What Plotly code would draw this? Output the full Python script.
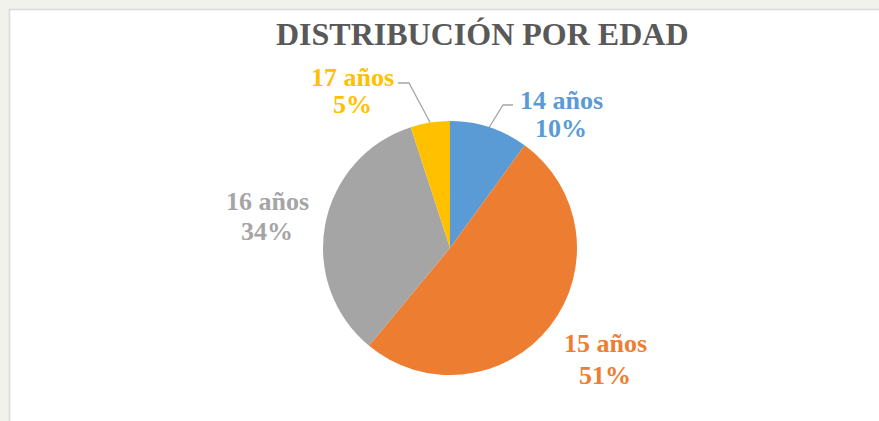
import math
import plotly.graph_objects as go

# ---- data ----
categories = ["14 años", "15 años", "16 años", "17 años"]
values = [10, 51, 34, 5]
colors = ["#5B9BD5", "#ED7D31", "#A5A5A5", "#FFC000"]
title_text = "DISTRIBUCIÓN POR EDAD"

# ---- layout (pixels) ----
W, H = 879, 421
CX, CY, R = 450, 248, 127
# label centres (line1 y, line2 y) and leader elbows (None when no leader)
label_pos = {
    "14 años": (561, 100, 128, (513, 105), (503, 105)),
    "15 años": (605, 343, 375, None, None),
    "16 años": (267, 201, 232, None, None),
    "17 años": (352, 78, 105, (398, 83), (409, 83)),
}
FONT = "Liberation Serif"

def px(x):
    return x / W

def py(y):
    return 1 - y / H

fig = go.Figure()

fig.add_trace(go.Pie(
    labels=categories, values=values, sort=False, direction="clockwise",
    rotation=0, marker=dict(colors=colors, line=dict(width=0)),
    textinfo="none", hoverinfo="label+percent", showlegend=False,
    domain=dict(x=[px(CX - R), px(CX + R)], y=[py(CY + R), py(CY - R)]),
))

total = sum(values)
annotations = []
cum = 0
for cat, v, col in zip(categories, values, colors):
    mid = (cum + v / 2) / total * 2 * math.pi
    cum += v
    lx, y1, y2, e_far, e_near = label_pos[cat]
    pct = f"{round(v / total * 100)}%"
    for txt, yy in ((cat, y1), (pct, y2)):
        annotations.append(dict(
            x=px(lx), y=py(yy), xref="paper", yref="paper", text=f"<b>{txt}</b>",
            showarrow=False, xanchor="center", yanchor="middle",
            font=dict(family=FONT, size=26, color=col)))
    if e_far is not None:
        ex = CX + R * math.sin(mid)
        ey = CY - R * math.cos(mid)
        fig.add_trace(go.Scatter(
            x=[e_far[0], e_near[0], ex], y=[e_far[1], e_near[1], ey],
            mode="lines", line=dict(color="#A6A6A6", width=1.3),
            hoverinfo="skip", showlegend=False))

annotations.append(dict(
    x=px(482), y=py(34), xref="paper", yref="paper", text=f"<b>{title_text}</b>",
    showarrow=False, xanchor="center", yanchor="middle",
    font=dict(family=FONT, size=32, color="#595959")))

fig.update_layout(
    width=W, height=H, margin=dict(l=0, r=0, t=0, b=0),
    font=dict(family=FONT),
    paper_bgcolor="#F1F2EC", plot_bgcolor="rgba(0,0,0,0)",
    xaxis=dict(range=[0, W], visible=False, fixedrange=True),
    yaxis=dict(range=[H, 0], visible=False, fixedrange=True),
    annotations=annotations,
    shapes=[dict(type="rect", xref="x", yref="y", x0=9.5, y0=9.5, x1=W + 5, y1=H + 5,
                 fillcolor="white", line=dict(color="#D9D9D9", width=1.5), layer="below")],
)

fig.write_html(
    "out.html",
    config={"displayModeBar": False},
    post_script="document.body.style.margin='0';document.body.style.padding='0';",
)
